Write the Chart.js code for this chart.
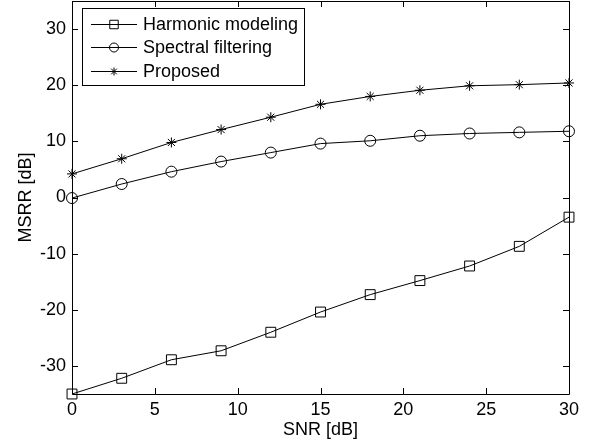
<!DOCTYPE html>
<html>
<head>
    <title>MSRR vs SNR</title>
    <script src="https://cdn.jsdelivr.net/npm/chart.js"></script>
    <style>
        body { margin: 0; background: #fff; }
    </style>
</head>
<body>
    <canvas id="msrrChart" width="593" height="445"></canvas>

    <script>
        // data
        const snr = [0, 3, 6, 9, 12, 15, 18, 21, 24, 27, 30];
        const harmonic = [-35.0, -32.2, -28.9, -27.3, -24.0, -20.4, -17.3, -14.8, -12.2, -8.7, -3.5];
        const spectral = [-0.1, 2.4, 4.6, 6.4, 8.0, 9.6, 10.1, 11.0, 11.4, 11.6, 11.8];
        const proposed = [4.2, 6.9, 9.8, 12.1, 14.3, 16.6, 18.0, 19.1, 19.9, 20.1, 20.4];
        const seriesNames = ['Harmonic modeling', 'Spectral filtering', 'Proposed'];
        const xTicks = [0, 5, 10, 15, 20, 25, 30];
        const yTicks = [-30, -20, -10, 0, 10, 20, 30];

        const FONT = 'Liberation Sans, Arial, sans-serif';

        const makeSeries = (label, values, style, radius) => ({
            label: label,
            data: snr.map((x, i) => ({ x: x, y: values[i] })),
            borderColor: '#000',
            backgroundColor: 'rgba(0,0,0,0)',
            borderWidth: 1,
            pointStyle: style,
            pointRadius: radius,
            pointHoverRadius: radius,
            pointBorderColor: '#000',
            pointBackgroundColor: 'rgba(0,0,0,0)',
            pointBorderWidth: 1,
            tension: 0,
            clip: false
        });

        // 画边框、向内的刻度和图例
        const framePlugin = {
            id: 'frame',
            afterDraw(chart) {
                const ctx = chart.ctx;
                const a = chart.chartArea;
                const xs = chart.scales.x;
                const ys = chart.scales.y;
                const tick = 6;
                ctx.save();
                ctx.strokeStyle = '#000';
                ctx.lineWidth = 1;
                ctx.beginPath();
                ctx.rect(Math.round(a.left) + 0.5, Math.round(a.top) + 0.5,
                    Math.round(a.right - a.left), Math.round(a.bottom - a.top));
                xTicks.forEach(v => {
                    const px = Math.round(xs.getPixelForValue(v)) + 0.5;
                    ctx.moveTo(px, a.bottom); ctx.lineTo(px, a.bottom - tick);
                    ctx.moveTo(px, a.top); ctx.lineTo(px, a.top + tick);
                });
                yTicks.forEach(v => {
                    const py = Math.round(ys.getPixelForValue(v)) + 0.5;
                    ctx.moveTo(a.left, py); ctx.lineTo(a.left + tick, py);
                    ctx.moveTo(a.right, py); ctx.lineTo(a.right - tick, py);
                });
                ctx.stroke();

                // legend
                const box = { left: 82.5, top: 8.5, width: 222, height: 77 };
                ctx.fillStyle = '#fff';
                ctx.fillRect(box.left, box.top, box.width, box.height);
                ctx.strokeRect(box.left, box.top, box.width, box.height);
                ctx.font = '18px ' + FONT;
                ctx.textBaseline = 'middle';
                chart.data.datasets.forEach((ds, i) => {
                    const y = Math.round(box.top + 15 + i * 23.8) + 0.5;
                    ctx.strokeStyle = '#000';
                    ctx.beginPath();
                    ctx.moveTo(91, y); ctx.lineTo(137, y);
                    ctx.stroke();
                    ctx.fillStyle = 'rgba(0,0,0,0)';
                    Chart.helpers.drawPoint(ctx, {
                        pointStyle: ds.pointStyle,
                        radius: ds.pointRadius - 1,
                        rotation: 0,
                        borderWidth: 1
                    }, 114, y);
                    ctx.fillStyle = '#000';
                    ctx.fillText(ds.label, 143, y + 1);
                });
                ctx.restore();
            }
        };

        const chart = new Chart(document.getElementById('msrrChart').getContext('2d'), {
            type: 'line',
            data: {
                datasets: [
                    makeSeries(seriesNames[0], harmonic, 'rect', 7),
                    makeSeries(seriesNames[1], spectral, 'circle', 5.5),
                    makeSeries(seriesNames[2], proposed, 'star', 5)
                ]
            },
            options: {
                responsive: false,
                animation: false,
                layout: { autoPadding: false, padding: { top: 1, right: 24, left: 0, bottom: 0 } },
                plugins: {
                    legend: { display: false },
                    tooltip: { enabled: false }
                },
                scales: {
                    x: {
                        type: 'linear',
                        min: 0,
                        max: 30,
                        afterBuildTicks: s => { s.ticks = xTicks.map(v => ({ value: v })); },
                        afterFit: s => { s.height = 51; s.paddingLeft = 0; s.paddingRight = 0; },
                        grid: { display: false, drawTicks: false },
                        border: { display: false },
                        ticks: { color: '#000', font: { family: FONT, size: 18 }, padding: 5, maxRotation: 0 },
                        title: { display: true, text: 'SNR [dB]', color: '#000', font: { family: FONT, size: 18 }, padding: { top: 0, bottom: 4 } }
                    },
                    y: {
                        type: 'linear',
                        min: -35,
                        max: 35,
                        afterBuildTicks: s => { s.ticks = yTicks.map(v => ({ value: v })); },
                        afterFit: s => { s.width = 72; s.paddingTop = 0; s.paddingBottom = 0; },
                        grid: { display: false, drawTicks: false },
                        border: { display: false },
                        ticks: { color: '#000', font: { family: FONT, size: 18 }, padding: 6 },
                        title: { display: true, text: 'MSRR [dB]', color: '#000', font: { family: FONT, size: 18 }, padding: { top: 15, bottom: 0 } }
                    }
                }
            },
            plugins: [framePlugin]
        });
    </script>
</body>
</html>
